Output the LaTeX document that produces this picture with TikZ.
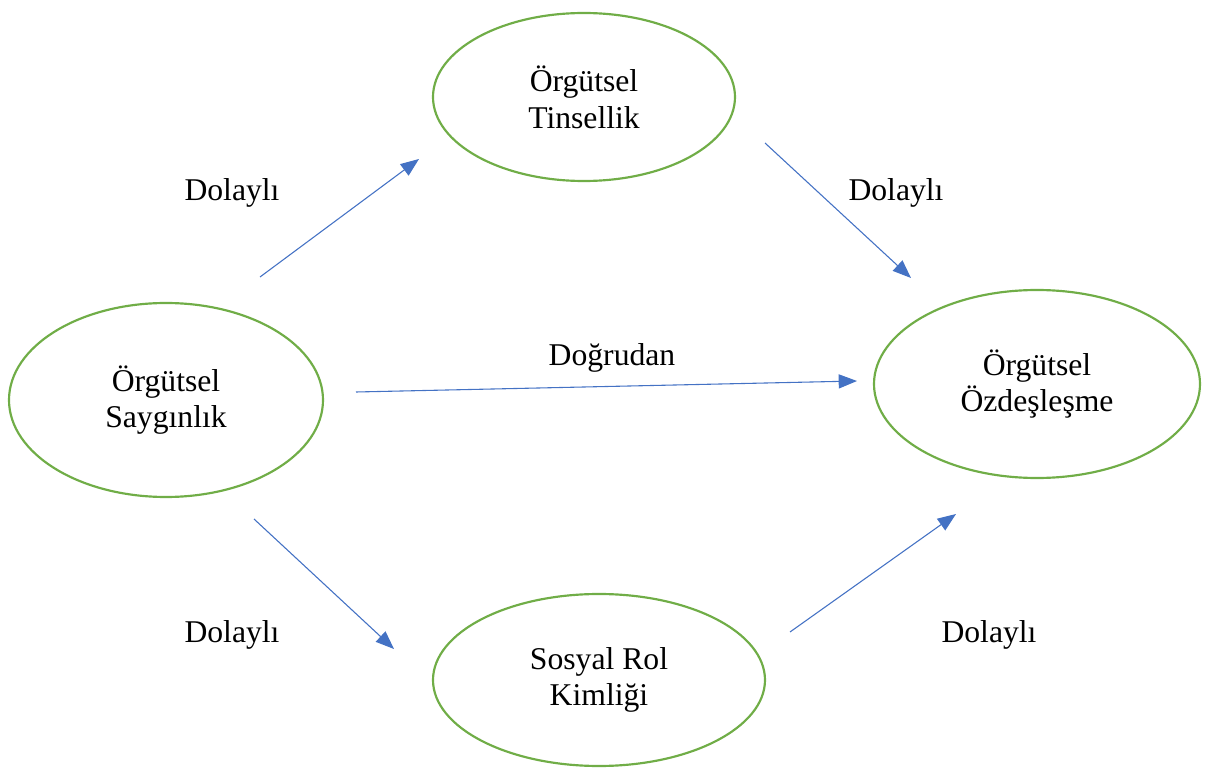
\documentclass[tikz,border=0pt]{standalone}
\usepackage{fontspec}
\setmainfont{Liberation Serif}
\usetikzlibrary{arrows.meta,shapes.geometric}
\definecolor{ringgreen}{HTML}{70AD47}
\definecolor{linkblue}{HTML}{4472C4}
\begin{document}
\begin{tikzpicture}[x=0.6pt,y=-0.6pt,
  concept/.style={ellipse, draw=ringgreen, line width=1.3pt, inner sep=0pt,
    align=center, font=\rmfamily\fontsize{19}{22}\selectfont},
  link/.style={draw=linkblue, line width=0.65pt,
    -{Triangle[length=11pt,width=8.5pt,fill=linkblue]}},
  tag/.style={font=\rmfamily\fontsize{19}{22}\selectfont}]
\useasboundingbox (0,0) rectangle (1214,773);
% the four constructs (sizes in pt: 0.6pt per unit)
\node[concept, minimum width=181.2pt, minimum height=100.8pt] (tin) at (584,97) {Örgütsel\\Tinsellik};
\node[concept, minimum width=188.4pt, minimum height=116.4pt] (say) at (166,400) {Örgütsel\\Saygınlık};
\node[concept, minimum width=195.6pt, minimum height=112.8pt] (ozd) at (1037,384) {Örgütsel\\Özdeşleşme};
\node[concept, minimum width=199.2pt, minimum height=103.2pt] (rol) at (599,680) {Sosyal Rol\\Kimliği};
% end points of the paths
\coordinate (a1) at (260,277); \coordinate (a2) at (419,159);
\coordinate (b1) at (765,143); \coordinate (b2) at (911,278);
\coordinate (c1) at (356,392); \coordinate (c2) at (857,381);
\coordinate (d1) at (254,519); \coordinate (d2) at (394,649);
\coordinate (e1) at (790,632); \coordinate (e2) at (956,514);
\draw[link] (a1) -- (a2);
\draw[link] (b1) -- (b2);
\draw[link] (c1) -- (c2);
\draw[link] (d1) -- (d2);
\draw[link] (e1) -- (e2);
% path labels
\node[tag] (l1) at (232,193) {Dolaylı};
\node[tag] (l2) at (896,193) {Dolaylı};
\node[tag] (l3) at (612,358) {Doğrudan};
\node[tag] (l4) at (232,635) {Dolaylı};
\node[tag] (l5) at (989,635) {Dolaylı};
\end{tikzpicture}
\end{document}
